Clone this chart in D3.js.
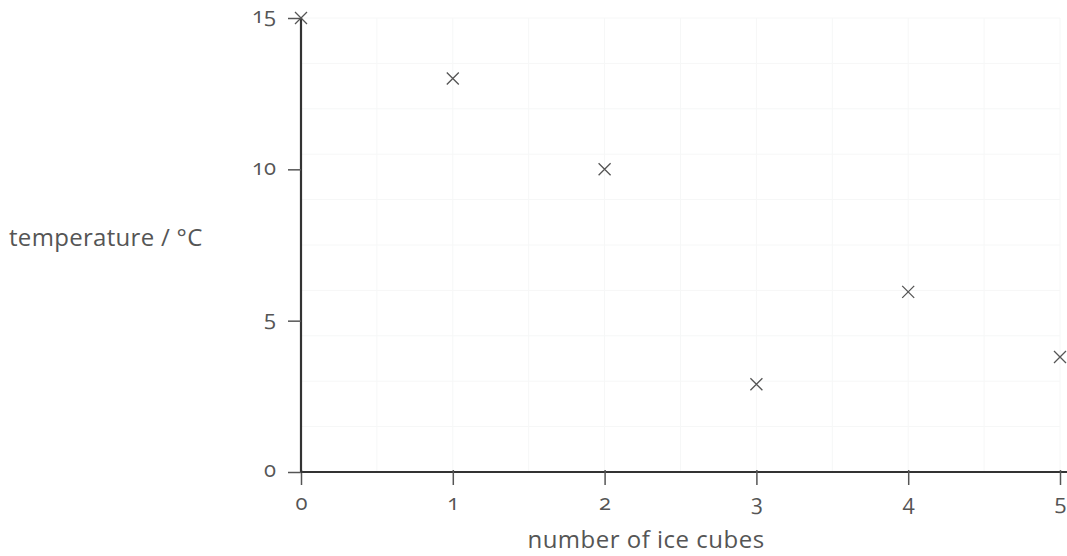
<!DOCTYPE html>
<html><head><meta charset="utf-8">
<script src="https://cdn.jsdelivr.net/npm/d3@7"></script>
<style>body{margin:0;background:#fff;overflow:hidden}svg{display:block}text{font-family:"Open Sans","Noto Sans",sans-serif;fill:#555;font-variant-numeric:oldstyle-nums;font-feature-settings:"onum" 1}</style>
</head><body>
<svg id="c" width="1067" height="556"></svg>
<script>
const iceCubes = [0, 1, 2, 3, 4, 5];
const temperature = [15, 13, 10, 2.9, 5.95, 3.8];
const xTicks = [0, 1, 2, 3, 4, 5];
const yTicks = [0, 5, 10, 15];
const xTitle = "number of ice cubes";
const yTitle = "temperature / °C";

const svg = d3.select("#c");
const x = d3.scaleLinear().domain([0, 5]).range([301, 1060]);
const y = d3.scaleLinear().domain([0, 15]).range([472, 18]);

// faint graph-paper grid
const grid = svg.append("g");
grid.selectAll("line.v").data(d3.range(0, 5.01, 0.5)).join("line")
  .attr("x1", d => x(d)).attr("x2", d => x(d)).attr("y1", y(15)).attr("y2", y(0))
  .attr("stroke", "#f6f7f7").attr("stroke-width", 1);
grid.selectAll("line.h").data(d3.range(0, 15.01, 1.5)).join("line")
  .attr("y1", d => y(d)).attr("y2", d => y(d)).attr("x1", x(0)).attr("x2", x(5))
  .attr("stroke", "#f6f7f7").attr("stroke-width", 1);

const xAxis = d3.axisBottom(x).tickValues(xTicks).tickSize(13).tickPadding(9).tickFormat(d3.format("d"));
const yAxis = d3.axisLeft(y).tickValues(yTicks).tickSize(13).tickPadding(12).tickFormat(d3.format("d"));

const gx = svg.append("g").attr("transform", `translate(0,${y(0)})`).call(xAxis);
gx.select(".domain").attr("d", `M${x(0)},0H1067`).attr("stroke", "#333").attr("stroke-width", 2.2);
gx.selectAll(".tick line").attr("stroke", "#555").attr("stroke-width", 1.5).attr("y1", -2);
gx.selectAll(".tick text").attr("font-size", 22).attr("fill", "#555").style("font-family", null);

const gy = svg.append("g").attr("transform", `translate(${x(0)},0)`).call(yAxis);
gy.select(".domain").attr("d", `M0,${y(0)+1}V${y(15)}`).attr("stroke", "#333").attr("stroke-width", 2.2);
gy.selectAll(".tick line").attr("stroke", "#555").attr("stroke-width", 1.5);
gy.selectAll(".tick text").attr("font-size", 22).attr("fill", "#555").attr("dy", "0.22em").style("font-family", null);

svg.append("text").attr("x", 646).attr("y", 548).attr("text-anchor", "middle")
  .attr("font-size", 24).attr("letter-spacing", 0.5).text(xTitle);
svg.append("text").attr("x", 9).attr("y", 246).attr("text-anchor", "start")
  .attr("font-size", 24).attr("letter-spacing", 0.3).text(yTitle);

const s = 6;
svg.append("g").selectAll("path").data(iceCubes.map((c, i) => [c, temperature[i]])).join("path")
  .attr("d", d => { const cx = x(d[0]), cy = y(d[1]);
    return `M${cx-s},${cy-s}L${cx+s},${cy+s}M${cx-s},${cy+s}L${cx+s},${cy-s}`; })
  .attr("stroke", "#555").attr("stroke-width", 1.3).attr("fill", "none");
</script>
</body></html>
